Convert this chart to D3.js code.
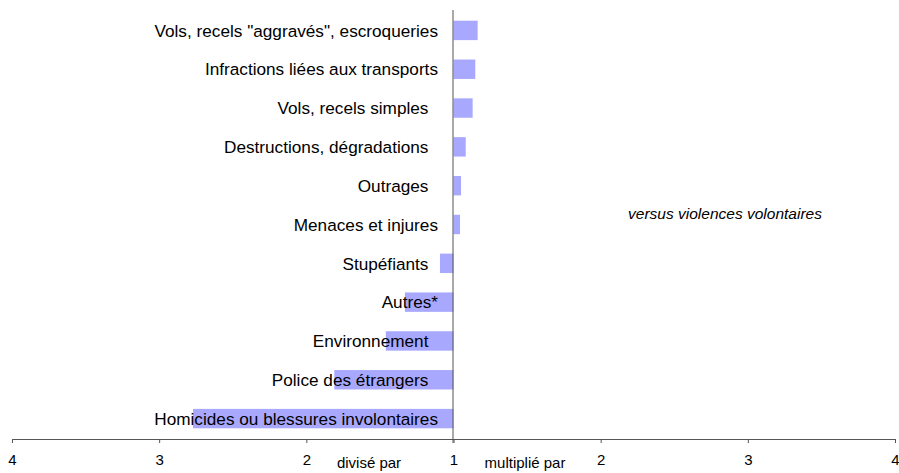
<!DOCTYPE html>
<html>
<head>
<meta charset="utf-8">
<script src="https://cdn.jsdelivr.net/npm/d3@7"></script>
<style>
  body { margin: 0; background: #fff; }
  text { font-family: "Liberation Sans", Arial, sans-serif; fill: #000; }
</style>
</head>
<body>
<svg id="chart" width="899" height="473"></svg>
<script>
(function () {
    'use strict';

    const WIDTH = 899;
    const HEIGHT = 473;

    // categories, top to bottom (trailing spaces kept as in the source)
    const categories = [
        'Vols, recels "aggravés", escroqueries',
        'Infractions liées aux transports',
        'Vols, recels simples  ',
        'Destructions, dégradations  ',
        'Outrages  ',
        'Menaces et injures',
        'Stupéfiants  ',
        'Autres*',
        'Environnement  ',
        'Police des étrangers  ',
        'Homicides ou blessures involontaires'
    ];
    // signed position: + multiplied, - divided (0 = ratio 1)
    const values = [0.164, 0.148, 0.13, 0.083, 0.051, 0.044, -0.092, -0.33, -0.46, -0.81, -1.77];

    const tickValues = [-3, -2, -1, 0, 1, 2, 3];
    const tickLabels = ['4', '3', '2', '1', '2', '3', '4'];

    let svg = d3.select('#chart');

    let x = d3.scaleLinear().domain([-3, 3]).range([12, 895]);
    let y = d3.scaleBand().domain(categories).range([11, 438]).paddingInner(0.5).paddingOuter(0.25);

    // bars
    svg.append('g')
        .selectAll('rect')
        .data(values)
        .join('rect')
        .attr('x', d => x(Math.min(0, d)))
        .attr('width', d => Math.abs(x(d) - x(0)))
        .attr('y', (d, i) => y(categories[i]))
        .attr('height', y.bandwidth())
        .attr('fill', '#a8a8ff');

    // vertical line at ratio 1
    svg.append('line')
        .attr('x1', x(0) - 0.5).attr('x2', x(0) - 0.5)
        .attr('y1', 10).attr('y2', 443)
        .attr('stroke', '#555').attr('stroke-width', 1);

    // category labels, drawn over the bars
    svg.append('g')
        .selectAll('text')
        .data(categories)
        .join('text')
        .attr('x', 438)
        .attr('y', d => y(d) + y.bandwidth() / 2)
        .attr('dy', '0.36em')
        .attr('text-anchor', 'end')
        .style('white-space', 'pre')
        .style('font-size', '17.2px')
        .text(d => d);

    // bottom axis
    let axis = d3.axisBottom(x)
        .tickValues(tickValues)
        .tickFormat((d, i) => tickLabels[i])
        .tickSize(4)
        .tickSizeOuter(0);

    let gAxis = svg.append('g')
        .attr('transform', 'translate(0,439)')
        .call(axis);
    gAxis.select('.domain').attr('stroke', '#555');
    gAxis.selectAll('.tick line').attr('stroke', '#555');
    gAxis.selectAll('.tick text')
        .attr('y', 15)
        .style('font-family', '"Liberation Sans", Arial, sans-serif')
        .style('font-size', '15px')
        .attr('fill', '#000');

    svg.append('text')
        .attr('x', 369).attr('y', 468)
        .attr('text-anchor', 'middle')
        .style('font-size', '15px')
        .text('divisé par');

    svg.append('text')
        .attr('x', 525).attr('y', 468)
        .attr('text-anchor', 'middle')
        .style('font-size', '15px')
        .text('multiplié par');

    svg.append('text')
        .attr('x', 725).attr('y', 219)
        .attr('text-anchor', 'middle')
        .style('font-size', '15.5px')
        .style('font-style', 'italic')
        .text('versus violences volontaires');
})();
</script>
</body>
</html>
